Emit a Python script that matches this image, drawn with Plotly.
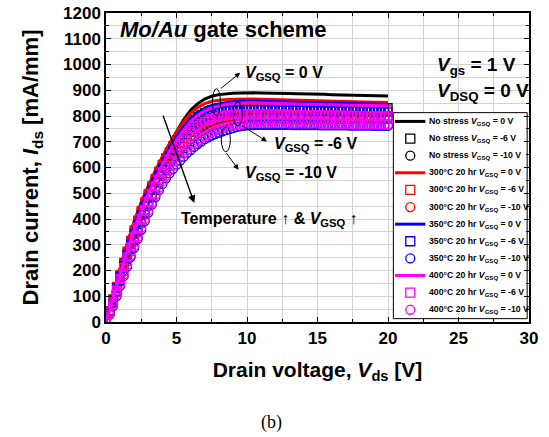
import plotly.graph_objects as go

# Drain sweep (V): lines sampled every 0.5 V, marker series every 0.25 V
vds_line = [0, 0.5, 1, 1.5, 2, 2.5, 3, 3.5, 4, 4.5, 5, 5.5, 6, 6.5, 7, 7.5, 8, 8.5, 9, 9.5, 10,
            10.5, 11, 11.5, 12, 12.5, 13, 13.5, 14, 14.5, 15, 15.5, 16, 16.5, 17, 17.5, 18, 18.5, 19, 19.5, 20]
vds_mark = [0, 0.25, 0.5, 0.75, 1, 1.25, 1.5, 1.75, 2, 2.25, 2.5, 2.75, 3, 3.25, 3.5, 3.75, 4, 4.25, 4.5, 4.75,
            5, 5.25, 5.5, 5.75, 6, 6.25, 6.5, 6.75, 7, 7.25, 7.5, 7.75, 8, 8.25, 8.5, 8.75, 9, 9.25, 9.5, 9.75,
            10, 10.25, 10.5, 10.75, 11, 11.25, 11.5, 11.75, 12, 12.25, 12.5, 12.75, 13, 13.25, 13.5, 13.75,
            14, 14.25, 14.5, 14.75, 15, 15.25, 15.5, 15.75, 16, 16.25, 16.5, 16.75, 17, 17.25, 17.5, 17.75,
            18, 18.25, 18.5, 18.75, 19, 19.25, 19.5, 19.75, 20]

# Drain current (mA/mm) at Vgs = 1 V, VDSQ = 0 V
# VGSQ = 0 V (lines)
ns_0 = [0, 103, 205, 300, 388, 462, 527, 585, 640, 692, 740, 785, 822, 848, 866, 877, 883, 886, 888, 889, 890,
        890, 889, 889, 888, 887, 887, 886, 886, 885, 884, 884, 883, 882, 882, 881, 880, 880, 879, 879, 878]
t300_0 = [0, 106, 210, 305, 392, 466, 530, 588, 642, 692, 738, 778, 810, 833, 848, 857, 862, 864, 865, 866, 866,
          866, 865, 865, 864, 863, 862, 862, 861, 860, 859, 858, 858, 857, 856, 855, 855, 854, 853, 853, 852]
t350_0 = [0, 98, 194, 285, 370, 445, 510, 568, 622, 672, 718, 758, 790, 814, 830, 841, 848, 852, 855, 857, 858,
          858, 857, 857, 856, 855, 855, 854, 853, 853, 852, 851, 850, 850, 849, 848, 848, 847, 846, 846, 845]
t400_0 = [0, 95, 188, 277, 360, 435, 500, 558, 612, 662, 707, 746, 778, 803, 820, 832, 840, 845, 848, 850, 851,
          851, 850, 850, 849, 848, 848, 847, 846, 846, 845, 845, 844, 843, 843, 842, 842, 841, 841, 840, 840]

# VGSQ = -6 V (open squares)
ns_6 = [0, 43, 88, 134, 180, 226, 270, 312, 352, 390, 427, 461, 494, 525, 555, 583, 610, 636, 660, 683,
        705, 725, 744, 760, 775, 787, 798, 806, 813, 819, 824, 828, 831, 833, 835, 836, 837, 838, 838, 838,
        838,
        838, 838, 838, 838, 837, 837, 837, 837, 837, 836,
        836, 836, 836, 836, 835, 835, 835, 835, 835, 834,
        834, 834, 834, 834, 833, 833, 833, 833, 833, 833,
        833, 832, 832, 832, 832, 832, 832, 832, 832, 832]
t300_6 = [0, 44, 90, 138, 185, 231, 275, 317, 358, 396, 432, 466, 498, 529, 558, 586, 612, 637, 660, 682,
          702, 721, 738, 753, 767, 779, 790, 799, 806, 812, 817, 821, 824, 826, 828, 829, 830, 831, 832, 832,
          832,
          832, 832, 832, 832, 831, 831, 831, 831, 830, 830,
          830, 830, 829, 829, 829, 829, 828, 828, 828, 828,
          827, 827, 827, 827, 826, 826, 826, 826, 825, 825,
          825, 825, 825, 825, 824, 824, 824, 824, 824, 824]
t350_6 = [0, 41, 84, 130, 175, 219, 262, 303, 342, 379, 415, 449, 482, 513, 543, 571, 598, 623, 647, 669,
          690, 709, 727, 743, 757, 769, 780, 789, 797, 803, 808, 812, 816, 818, 820, 822, 823, 824, 825, 825,
          825,
          825, 825, 825, 825, 824, 824, 824, 824, 823, 823,
          823, 823, 822, 822, 822, 822, 821, 821, 821, 821,
          820, 820, 820, 820, 819, 819, 819, 819, 818, 818,
          818, 818, 817, 817, 817, 817, 816, 816, 816, 816]
t400_6 = [0, 39, 80, 124, 168, 211, 252, 292, 330, 367, 402, 436, 468, 499, 528, 556, 582, 607, 630, 652,
          672, 691, 708, 724, 738, 750, 761, 770, 778, 784, 790, 794, 798, 801, 803, 805, 806, 807, 808, 808,
          808,
          808, 808, 808, 808, 807, 807, 807, 807, 807, 806,
          806, 806, 806, 805, 805, 805, 805, 804, 804, 804,
          804, 803, 803, 803, 803, 802, 802, 802, 802, 802,
          801, 801, 801, 801, 801, 800, 800, 800, 800, 800]

# VGSQ = -10 V (open circles)
ns_10 = [0, 36, 75, 118, 160, 201, 242, 281, 318, 355, 390, 425, 458, 490, 520, 548, 575, 599, 622, 643,
         662, 680, 696, 711, 724, 737, 748, 758, 766, 773, 779, 784, 788, 791, 794, 796, 798, 800, 801, 802,
         802,
         802, 802, 802, 802, 802, 802, 801, 801, 801, 801,
         801, 801, 800, 800, 800, 800, 800, 800, 800, 799,
         799, 799, 799, 799, 799, 799, 798, 798, 798, 798,
         798, 798, 798, 797, 797, 797, 797, 797, 797, 797]
t300_10 = [0, 35, 72, 114, 155, 196, 235, 273, 310, 347, 382, 417, 450, 482, 512, 540, 566, 590, 612, 632,
           650, 667, 682, 697, 710, 722, 733, 743, 751, 758, 764, 770, 774, 778, 781, 784, 786, 788, 789, 790,
           791,
           791, 791, 791, 791, 791, 791, 791, 791, 790, 790,
           790, 790, 790, 790, 790, 790, 790, 790, 790, 789,
           789, 789, 789, 789, 789, 789, 789, 789, 789, 789,
           788, 788, 788, 788, 788, 788, 788, 788, 788, 788]
t350_10 = [0, 29, 62, 101, 140, 178, 215, 252, 288, 323, 358, 392, 425, 456, 485, 512, 536, 558, 577, 595,
           611, 627, 642, 656, 668, 680, 691, 701, 710, 717, 724, 730, 735, 740, 745, 749, 753, 757, 760, 762,
           764,
           765, 765, 766, 766, 766, 766, 766, 766, 766, 766,
           766, 766, 765, 765, 765, 765, 765, 765, 765, 765,
           764, 764, 764, 764, 764, 764, 764, 764, 763, 763,
           763, 763, 763, 763, 763, 762, 762, 762, 762, 762]
t400_10 = [0, 31, 66, 106, 146, 184, 222, 259, 296, 331, 366, 400, 433, 464, 494, 521, 546, 568, 588, 606,
           623, 639, 654, 667, 680, 692, 703, 713, 722, 730, 737, 743, 748, 753, 757, 760, 763, 766, 768, 770,
           771,
           772, 772, 772, 772, 772, 772, 772, 772, 772, 772,
           772, 771, 771, 771, 771, 771, 771, 771, 771, 771,
           770, 770, 770, 770, 770, 770, 770, 770, 769, 769,
           769, 769, 769, 769, 769, 769, 768, 768, 768, 768]

for s in (ns_0, t300_0, t350_0, t400_0):
    assert len(s) == len(vds_line)
for s in (ns_6, t300_6, t350_6, t400_6, ns_10, t300_10, t350_10, t400_10):
    assert len(s) == len(vds_mark)

conditions = ["No stress", "300°C 20 hr", "350°C 20 hr", "400°C 20 hr"]
colors = ["#000000", "#ff0000", "#0000ff", "#ff00ff"]
gsq_labels = ["0 V", "-6 V", "-10 V"]
series = [
    [ns_0, ns_6, ns_10],
    [t300_0, t300_6, t300_10],
    [t350_0, t350_6, t350_10],
    [t400_0, t400_6, t400_10],
]
symbols = [None, "square-open", "circle-open"]

FONT = "Liberation Sans, Arial, sans-serif"

fig = go.Figure()
for cond, col, group in zip(conditions, colors, series):
    for j, ys in enumerate(group):
        if j == 0:
            fig.add_trace(go.Scatter(x=vds_line, y=ys, mode="lines", line=dict(color=col, width=3),
                                     showlegend=False, hoverinfo="skip"))
        else:
            fig.add_trace(go.Scatter(x=vds_mark, y=ys, mode="markers",
                                     marker=dict(symbol=symbols[j], size=9 if j == 2 else 8, color=col,
                                                 line=dict(color=col, width=1.3)),
                                     showlegend=False, hoverinfo="skip"))

# ---- key box inside the plot (data units of the fixed axes) ----
box_x0, box_x1, box_y0, box_y1 = 20.38, 29.87, 13, 813
row_top, row_step = 779.0, 66.5
line_x0, line_x1, sym_x, text_x = 20.5, 22.65, 21.58, 22.79

fig.add_trace(go.Scatter(x=[box_x0, box_x1, box_x1, box_x0, box_x0],
                         y=[box_y0, box_y0, box_y1, box_y1, box_y0],
                         mode="lines", fill="toself", fillcolor="white",
                         line=dict(color="black", width=1), showlegend=False, hoverinfo="skip"))

sym_x_list, sym_y_list, sym_sym, sym_col = [], [], [], []
row = 0
for cond, col in zip(conditions, colors):
    for j, lab in enumerate(gsq_labels):
        yy = row_top - row_step * row
        if j == 0:
            fig.add_shape(type="line", xref="x", yref="y", x0=line_x0, x1=line_x1, y0=yy, y1=yy,
                          line=dict(color=col, width=3))
        else:
            sym_x_list.append(sym_x)
            sym_y_list.append(yy)
            sym_sym.append(symbols[j])
            sym_col.append(col)
        fig.add_annotation(x=text_x, y=yy, xref="x", yref="y", showarrow=False,
                           text=f"<b>{cond} <i>V</i><sub>GSQ</sub> = {lab}</b>",
                           xanchor="left", yanchor="middle",
                           font=dict(family=FONT, size=8.7, color="black"))
        row += 1

fig.add_trace(go.Scatter(x=sym_x_list, y=sym_y_list, mode="markers",
                         marker=dict(symbol=sym_sym, size=9, color=sym_col,
                                     line=dict(color=sym_col, width=1.3)),
                         showlegend=False, hoverinfo="skip"))

grid = "#d2d2d2"
axis_common = dict(
    showline=True, linecolor="black", linewidth=1.5, mirror="ticks",
    ticks="inside", ticklen=5, tickwidth=1.2, tickcolor="black",
    showgrid=True, gridcolor=grid, gridwidth=1, zeroline=False,
    tickfont=dict(family=FONT, size=17, color="black", weight="bold"),
)

fig.update_xaxes(range=[0, 30], tick0=0, dtick=5,
                 minor=dict(dtick=2.5, ticks="inside", ticklen=3, tickcolor="black",
                            showgrid=True, gridcolor=grid),
                 title=dict(text="<b>Drain voltage, <i>V</i><sub>ds</sub> [V]</b>",
                            font=dict(family=FONT, size=21, color="black"), standoff=15),
                 **axis_common)
fig.update_yaxes(range=[0, 1200], tick0=0, dtick=100,
                 minor=dict(dtick=50, ticks="inside", ticklen=3, tickcolor="black",
                            showgrid=True, gridcolor=grid),
                 title=dict(text="<b>Drain current, <i>I</i><sub>ds</sub> [mA/mm]</b>",
                            font=dict(family=FONT, size=22, color="black"), standoff=18),
                 **axis_common)


def note(text, x, y, size):
    fig.add_annotation(x=x, y=y, xref="x", yref="y", text=f"<b>{text}</b>", showarrow=False,
                       xanchor="left", yanchor="middle",
                       font=dict(family=FONT, size=size, color="black"))


note("<i>Mo/Au</i> gate scheme", 0.87, 1135, 22)
note("<i>V</i><sub>gs</sub> = 1 V", 23.3, 995, 19)
note("<i>V</i><sub>DSQ</sub> = 0 V", 23.3, 893, 19)
note("<i>V</i><sub>GSQ</sub> = 0 V", 9.74, 965, 16)
note("<i>V</i><sub>GSQ</sub> = -6 V", 11.8, 689, 16)
note("<i>V</i><sub>GSQ</sub> = -10 V", 9.74, 577, 16)
note("Temperature ↑ & <i>V</i><sub>GSQ</sub> ↑", 5.2, 398, 16)


def arrow(x0, y0, x1, y1, w=1.0):
    fig.add_annotation(x=x1, y=y1, ax=x0, ay=y0, xref="x", yref="y", axref="x", ayref="y",
                       text="", showarrow=True, arrowhead=2, arrowsize=1.1, arrowwidth=w,
                       arrowcolor="black")


arrow(8.04, 902, 9.52, 968)
arrow(9.52, 767, 11.42, 701)
arrow(8.46, 662, 9.40, 591)
arrow(4.01, 808, 6.26, 462, 1.4)

for x0, x1, y0, y1 in [(7.55, 8.12, 801, 906), (9.03, 9.67, 762, 855), (8.18, 8.82, 661, 758)]:
    fig.add_shape(type="circle", xref="x", yref="y", x0=x0, x1=x1, y0=y0, y1=y1,
                  line=dict(color="black", width=1))

fig.add_annotation(x=0.392, y=-0.325, xref="paper", yref="paper", text="(b)", showarrow=False,
                   xanchor="center", yanchor="middle",
                   font=dict(family="Liberation Serif, Times New Roman, serif", size=18, color="black"))

fig.update_layout(
    width=549, height=437,
    margin=dict(l=106, r=20, t=13, b=115, autoexpand=False),
    plot_bgcolor="white", paper_bgcolor="white",
    font=dict(family=FONT, color="black"),
    showlegend=False,
)

fig.write_html("out.html")
